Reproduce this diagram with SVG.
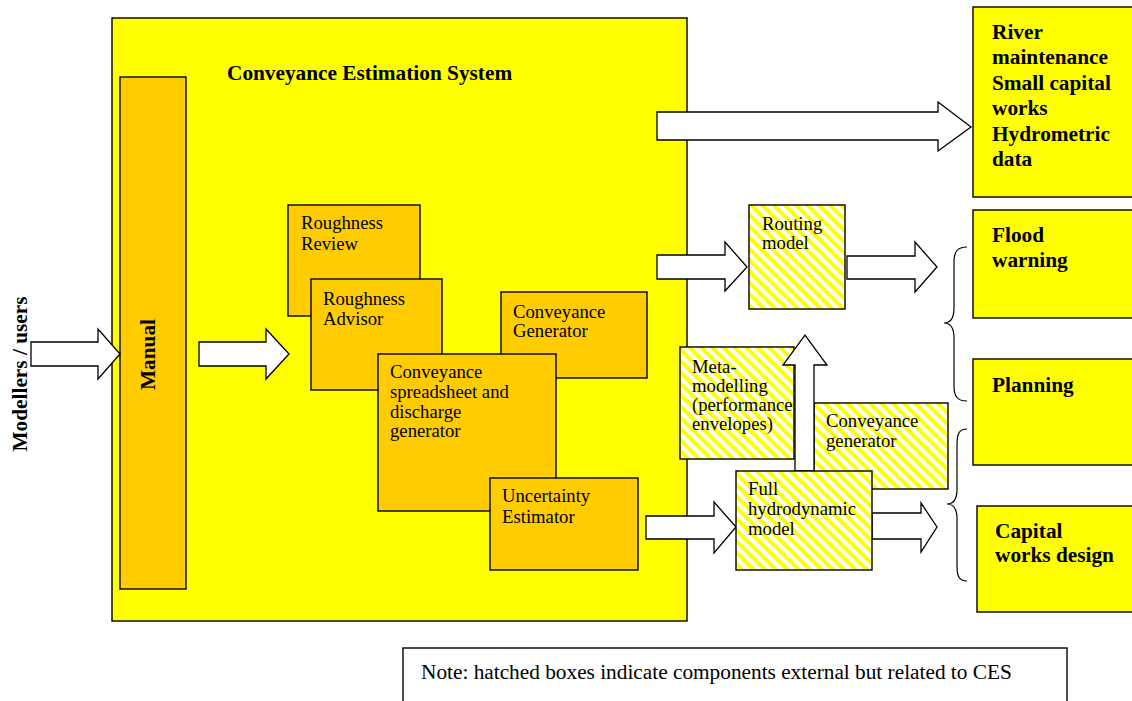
<svg xmlns="http://www.w3.org/2000/svg" width="1132" height="701" viewBox="0 0 1132 701">
<style>
.box{stroke:#000;stroke-width:1.4}
.y{fill:#FFFF00}
.o{fill:#FFCC00}
.h{fill:url(#hatch)}
.arr{fill:#fff;stroke:#000;stroke-width:1.3;stroke-linejoin:miter}
.t{font-family:"Liberation Serif","Times New Roman",serif;font-size:18.7px;fill:#000}
.n{font-family:"Liberation Serif","Times New Roman",serif;font-size:21.3px;fill:#000}
.b{font-family:"Liberation Serif","Times New Roman",serif;font-size:21.3px;font-weight:bold;fill:#000}
.brace{fill:none;stroke:#000;stroke-width:1.2}
</style>
<defs>
<pattern id="hatch" patternUnits="userSpaceOnUse" width="8" height="8" patternTransform="rotate(-45)">
<rect x="0" y="0" width="8" height="8" fill="#fff"/>
<rect x="0" y="0" width="4" height="8" fill="#FFFF00"/>
</pattern>
</defs>
<rect width="1132" height="701" fill="#fff"/>

<g id="ces">
<rect class="box y" x="112" y="18" width="575" height="603"/>
<text class="b" x="227" y="80">Conveyance Estimation System</text>
</g>

<g id="manual">
<rect class="box o" x="120" y="77" width="66" height="512"/>
<text class="b" text-anchor="middle" transform="translate(155,354.5) rotate(-90)">Manual</text>
</g>

<g id="users">
<text class="b" text-anchor="middle" transform="translate(27,374) rotate(-90)">Modellers / users</text>
</g>

<g id="roughness-review">
<rect class="box o" x="288" y="205" width="132" height="111"/>
<text class="t" x="301" y="229">Roughness</text>
<text class="t" x="301" y="250">Review</text>
</g>

<g id="roughness-advisor">
<rect class="box o" x="311" y="279" width="131" height="111"/>
<text class="t" x="323" y="305">Roughness</text>
<text class="t" x="323" y="325">Advisor</text>
</g>

<g id="conveyance-generator">
<rect class="box o" x="501" y="292" width="146" height="86"/>
<text class="t" x="513" y="318">Conveyance</text>
<text class="t" x="513" y="337">Generator</text>
</g>

<g id="conveyance-spreadsheet">
<rect class="box o" x="378" y="354" width="178" height="157"/>
<text class="t" x="390" y="378">Conveyance</text>
<text class="t" x="390" y="398">spreadsheet and</text>
<text class="t" x="390" y="418">discharge</text>
<text class="t" x="390" y="437">generator</text>
</g>

<g id="uncertainty-estimator">
<rect class="box o" x="490" y="478" width="148" height="92"/>
<text class="t" x="502" y="502">Uncertainty</text>
<text class="t" x="502" y="523">Estimator</text>
</g>

<g id="routing-model">
<rect class="box h" x="749" y="205" width="96" height="104"/>
<text class="t" x="762" y="230">Routing</text>
<text class="t" x="762" y="249">model</text>
</g>

<g id="conveyance-generator-ext">
<rect class="box h" x="814" y="403" width="134" height="86"/>
<text class="t" x="826" y="427">Conveyance</text>
<text class="t" x="826" y="447">generator</text>
</g>

<g id="meta-modelling">
<rect class="box h" x="680" y="347" width="114" height="112"/>
<text class="t" x="692" y="373">Meta-</text>
<text class="t" x="692" y="392">modelling</text>
<text class="t" x="692" y="411">(performance</text>
<text class="t" x="692" y="430">envelopes)</text>
</g>

<g id="connectors">
<polygon class="arr" points="31,342 98,342 98,329 120,354 98,379 98,366 31,366"/>
<polygon class="arr" points="199,342 266,342 266,329 289,354 266,379 266,366 199,366"/>
<polygon class="arr" points="657,112 938,112 938,102 971,127 938,151 938,140 657,140"/>
<polygon class="arr" points="657,255 725,255 725,242 747,267 725,291 725,279 657,279"/>
<polygon class="arr" points="847,256 915,256 915,242 937,267 915,292 915,279 847,279"/>
<polygon class="arr" points="646,516 714,516 714,502 736,527 714,553 714,539 646,539"/>
<polygon class="arr" points="872,513 921,513 921,503 937,527 921,552 921,539 872,539"/>
<polygon class="arr" points="795,471 795,365 783,365 805,335 827,365 814,365 814,471"/>
<path class="brace" d="M967,247 C957,247 954,252 954,262 L954,308 C954,318 951,323 944,323 C951,323 954,328 954,338 L954,386 C954,396 957,401 967,401"/>
<path class="brace" d="M967,429 C959,429 957,434 957,444 L957,489 C957,499 954,504 947,504 C954,504 957,509 957,519 L957,566 C957,576 959,581 967,581"/>
</g>

<g id="full-hydrodynamic-model">
<rect class="box h" x="736" y="471" width="136" height="99"/>
<text class="t" x="748" y="495">Full</text>
<text class="t" x="748" y="515">hydrodynamic</text>
<text class="t" x="748" y="535">model</text>
</g>

<g id="river-maintenance">
<rect class="box y" x="973" y="7" width="170" height="190"/>
<text class="b" x="992" y="39">River</text>
<text class="b" x="992" y="64">maintenance</text>
<text class="b" x="992" y="90">Small capital</text>
<text class="b" x="992" y="115">works</text>
<text class="b" x="992" y="141">Hydrometric</text>
<text class="b" x="992" y="166">data</text>
</g>

<g id="flood-warning">
<rect class="box y" x="973" y="210" width="170" height="108"/>
<text class="b" x="992" y="242">Flood</text>
<text class="b" x="992" y="267">warning</text>
</g>

<g id="planning">
<rect class="box y" x="973" y="359" width="170" height="106"/>
<text class="b" x="992" y="392">Planning</text>
</g>

<g id="capital-works-design">
<rect class="box y" x="977" y="506" width="166" height="106"/>
<text class="b" x="995" y="538">Capital</text>
<text class="b" x="995" y="562">works design</text>
</g>

<g id="note">
<rect x="403" y="648" width="664" height="70" fill="#fff" stroke="#000" stroke-width="1.4"/>
<text class="n" x="421" y="679">Note: hatched boxes indicate components external but related to CES</text>
</g>
</svg>
